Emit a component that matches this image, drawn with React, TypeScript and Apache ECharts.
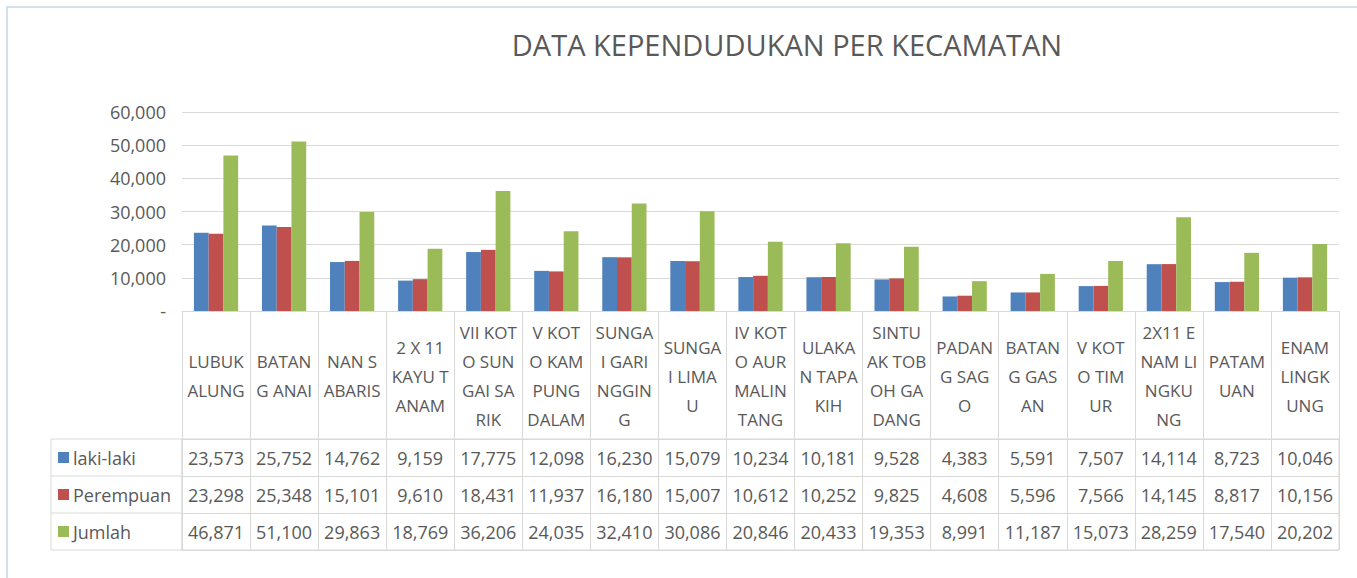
import React, { useEffect, useRef } from "react";
import * as echarts from "echarts";

const title = "DATA KEPENDUDUKAN PER KECAMATAN";
const categories = [
  "LUBUK\nALUNG",
  "BATAN\nG ANAI",
  "NAN S\nABARIS",
  "2 X 11\nKAYU T\nANAM",
  "VII KOT\nO SUN\nGAI SA\nRIK",
  "V KOT\nO KAM\nPUNG\nDALAM",
  "SUNGA\nI GARI\nNGGIN\nG",
  "SUNGA\nI LIMA\nU",
  "IV KOT\nO AUR\nMALIN\nTANG",
  "ULAKA\nN TAPA\nKIH",
  "SINTU\nAK TOB\nOH GA\nDANG",
  "PADAN\nG SAG\nO",
  "BATAN\nG GAS\nAN",
  "V KOT\nO TIM\nUR",
  "2X11 E\nNAM LI\nNGKU\nNG",
  "PATAM\nUAN",
  "ENAM\nLINGK\nUNG",
];
const seriesNames = ["laki-laki", "Perempuan", "Jumlah"];
const laki = [23573, 25752, 14762, 9159, 17775, 12098, 16230, 15079, 10234, 10181, 9528, 4383, 5591, 7507, 14114, 8723, 10046];
const perempuan = [23298, 25348, 15101, 9610, 18431, 11937, 16180, 15007, 10612, 10252, 9825, 4608, 5596, 7566, 14145, 8817, 10156];
const jumlah = [46871, 51100, 29863, 18769, 36206, 24035, 32410, 30086, 20846, 20433, 19353, 8991, 11187, 15073, 28259, 17540, 20202];
const yMin = 0;
const yMax = 60000;
const yInterval = 10000;

const colors = ["#4F81BD", "#C0504D", "#9BBB59"];
const FONT = "'Open Sans', 'Noto Sans', sans-serif";
const TXT = "#595959";
const LINE = "#d9d9d9";

const fmt = (v: number) => (v === 0 ? "-" : Number(v).toLocaleString("en-US"));

export default function App() {
  const ref = useRef<HTMLDivElement>(null);
  useEffect(() => {
    if (!ref.current) return;
    const chart = echarts.init(ref.current, undefined, { renderer: "svg" });
    const rows = [laki, perempuan, jumlah];
    const tableData: number[][] = [];
    rows.forEach((arr, r) => arr.forEach((v, c) => tableData.push([c, r, v])));

    const rich: any = {
      t: { fontSize: 18, color: TXT, fontFamily: FONT, padding: [0, 0, 0, 4] },
    };
    colors.forEach((c, i) => {
      rich["s" + i] = { width: 11, height: 11, backgroundColor: c };
    });

    const option: any = {
      animation: false,
      backgroundColor: "#ffffff",
      title: {
        text: title,
        left: 787,
        top: 30,
        textAlign: "center",
        padding: 0,
        textStyle: { fontSize: 29, fontWeight: "normal", color: TXT, fontFamily: FONT },
      },
      grid: [
        { left: 182, top: 112, width: 1157, height: 199 },
        { left: 182, top: 439, width: 1157, height: 111, show: true, borderColor: LINE, borderWidth: 1, backgroundColor: "transparent" },
      ],
      xAxis: [
        {
          type: "category",
          gridIndex: 0,
          data: categories,
          axisLine: { show: true, lineStyle: { color: LINE } },
          axisTick: { show: true, length: 128, lineStyle: { color: LINE } },
          axisLabel: {
            interval: 0,
            color: TXT,
            fontSize: 17,
            lineHeight: 29,
            fontFamily: FONT,
            verticalAlign: "middle",
            margin: 65,
          },
        },
        {
          type: "category",
          gridIndex: 1,
          data: categories,
          axisLine: { show: false },
          axisTick: { show: false },
          axisLabel: { show: false },
          splitLine: { show: true, lineStyle: { color: LINE } },
        },
      ],
      yAxis: [
        {
          type: "value",
          gridIndex: 0,
          min: yMin,
          max: yMax,
          interval: yInterval,
          axisLine: { show: false },
          axisTick: { show: false },
          splitLine: { lineStyle: { color: LINE } },
          axisLabel: {
            color: TXT,
            fontSize: 18,
            fontFamily: FONT,
            margin: 16,
            formatter: (v: number) => fmt(v),
          },
        },
        {
          type: "category",
          gridIndex: 1,
          inverse: true,
          data: seriesNames,
          axisLine: { show: false },
          axisTick: { show: false },
          splitLine: { show: true, lineStyle: { color: LINE } },
          axisLabel: {
            align: "left",
            margin: 124,
            formatter: (v: string, i: number) => `{s${i}|}{t|${v}}`,
            rich,
          },
        },
      ],
      series: [
        ...[laki, perempuan, jumlah].map((arr, i) => ({
          name: seriesNames[i],
          type: "bar",
          xAxisIndex: 0,
          yAxisIndex: 0,
          data: arr,
          barGap: "0%",
          barCategoryGap: "35%",
          itemStyle: { color: colors[i] },
        })),
        {
          type: "custom",
          xAxisIndex: 1,
          yAxisIndex: 1,
          data: tableData,
          encode: { x: 0, y: 1 },
          renderItem: (params: any, api: any) => {
            const p = api.coord([api.value(0), api.value(1)]);
            return {
              type: "text",
              x: p[0],
              y: p[1],
              style: {
                text: fmt(api.value(2)),
                align: "center",
                verticalAlign: "middle",
                fontSize: 18,
                fontFamily: FONT,
                fill: TXT,
              },
            };
          },
        },
      ],
      graphic: [
        { type: "rect", shape: { x: 7, y: 7, width: 1400, height: 600 }, style: { fill: "none", stroke: "#d6dfec", lineWidth: 2 }, silent: true },
        { type: "rect", shape: { x: 51, y: 439, width: 131, height: 111 }, style: { fill: "none", stroke: LINE, lineWidth: 1 }, silent: true },
        { type: "line", shape: { x1: 51, y1: 476, x2: 182, y2: 476 }, style: { stroke: LINE, lineWidth: 1 }, silent: true },
        { type: "line", shape: { x1: 51, y1: 513, x2: 182, y2: 513 }, style: { stroke: LINE, lineWidth: 1 }, silent: true },
      ],
    };
    chart.setOption(option);
    return () => chart.dispose();
  }, []);
  return (
    <div
      ref={ref}
      style={{ position: "absolute", left: 0, top: 0, width: 1357, height: 578, background: "#fff" }}
    />
  );
}
